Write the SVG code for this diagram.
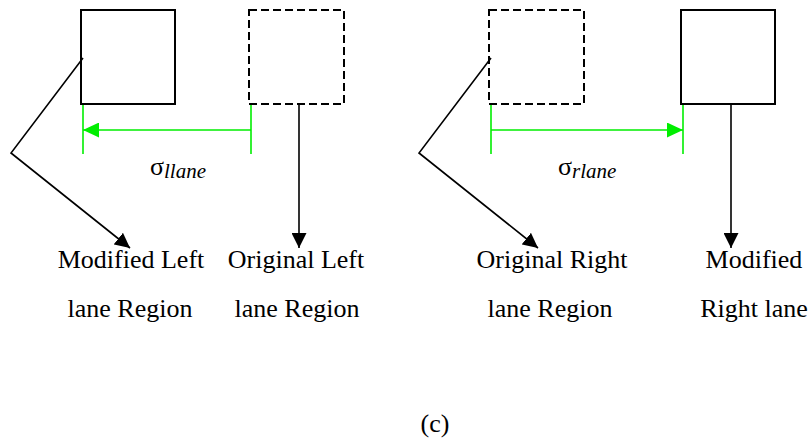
<svg xmlns="http://www.w3.org/2000/svg" width="812" height="442" viewBox="0 0 812 442">
  <defs>
    <marker id="blackHead" viewBox="0 0 15 15" refX="15" refY="7.5" markerWidth="15" markerHeight="15" markerUnits="userSpaceOnUse" orient="auto">
      <path d="M0,0 L15,7.5 L0,15 Z" fill="#000"/>
    </marker>
    <marker id="greenHead" viewBox="0 0 16 15" refX="16" refY="7.5" markerWidth="16" markerHeight="15" markerUnits="userSpaceOnUse" orient="auto">
      <path d="M0,0 L16,7.5 L0,15 Z" fill="#00ee00"/>
    </marker>
  </defs>
  <style>
    .box { fill: none; stroke: #000; stroke-width: 2; }
    .dashed { stroke-dasharray: 8 4; }
    .conn { fill: none; stroke: #000; stroke-width: 1.6; }
    .green { fill: none; stroke: #00ee00; stroke-width: 1.6; }
    text { font-family: "Liberation Serif", "DejaVu Serif", serif; fill: #000; }
    .label { font-size: 26px; text-anchor: middle; }
    .sigma { font-size: 26px; }
    .sub { font-size: 21px; font-style: italic; }
  </style>

  <rect width="812" height="442" fill="#fff"/>

  <!-- left half: shift of the left lane region -->
  <g id="modified-left">
    <rect class="box" x="81" y="10" width="94" height="94"/>
  </g>
  <g id="original-left">
    <rect class="box dashed" x="249" y="10" width="95" height="94"/>
  </g>

  <!-- right half: shift of the right lane region -->
  <g id="original-right">
    <rect class="box dashed" x="489" y="10" width="95" height="94"/>
  </g>
  <g id="modified-right">
    <rect class="box" x="681" y="10" width="94" height="94"/>
  </g>

  <g id="connectors">
    <!-- offset dimension lines -->
    <line class="green" x1="83" y1="105" x2="83" y2="154"/>
    <line class="green" x1="251" y1="105" x2="251" y2="154"/>
    <line class="green" x1="251" y1="130" x2="83" y2="130" marker-end="url(#greenHead)"/>
    <line class="green" x1="491" y1="105" x2="491" y2="154"/>
    <line class="green" x1="683" y1="105" x2="683" y2="154"/>
    <line class="green" x1="491" y1="130" x2="683" y2="130" marker-end="url(#greenHead)"/>

    <!-- callouts to the labels -->
    <polyline class="conn" points="83,58 11,153 130,248" marker-end="url(#blackHead)"/>
    <line class="conn" x1="299" y1="104" x2="299" y2="248" marker-end="url(#blackHead)"/>
    <polyline class="conn" points="491,58 419,153 538,248" marker-end="url(#blackHead)"/>
    <line class="conn" x1="731" y1="104" x2="731" y2="248" marker-end="url(#blackHead)"/>
  </g>

  <!-- offset symbols -->
  <text class="sigma" x="150" y="175">σ<tspan class="sub" dy="3">llane</tspan></text>
  <text class="sigma" x="558" y="175">σ<tspan class="sub" dy="3">rlane</tspan></text>

  <!-- region labels -->
  <text class="label" x="131" y="268">Modified Left</text>
  <text class="label" x="130" y="317">lane Region</text>
  <text class="label" x="296" y="268">Original Left</text>
  <text class="label" x="297" y="317">lane Region</text>
  <text class="label" x="552" y="268">Original Right</text>
  <text class="label" x="550" y="317">lane Region</text>
  <text class="label" x="754" y="268">Modified</text>
  <text class="label" x="754" y="317">Right lane</text>

  <text class="label" x="435" y="432">(c)</text>
</svg>
